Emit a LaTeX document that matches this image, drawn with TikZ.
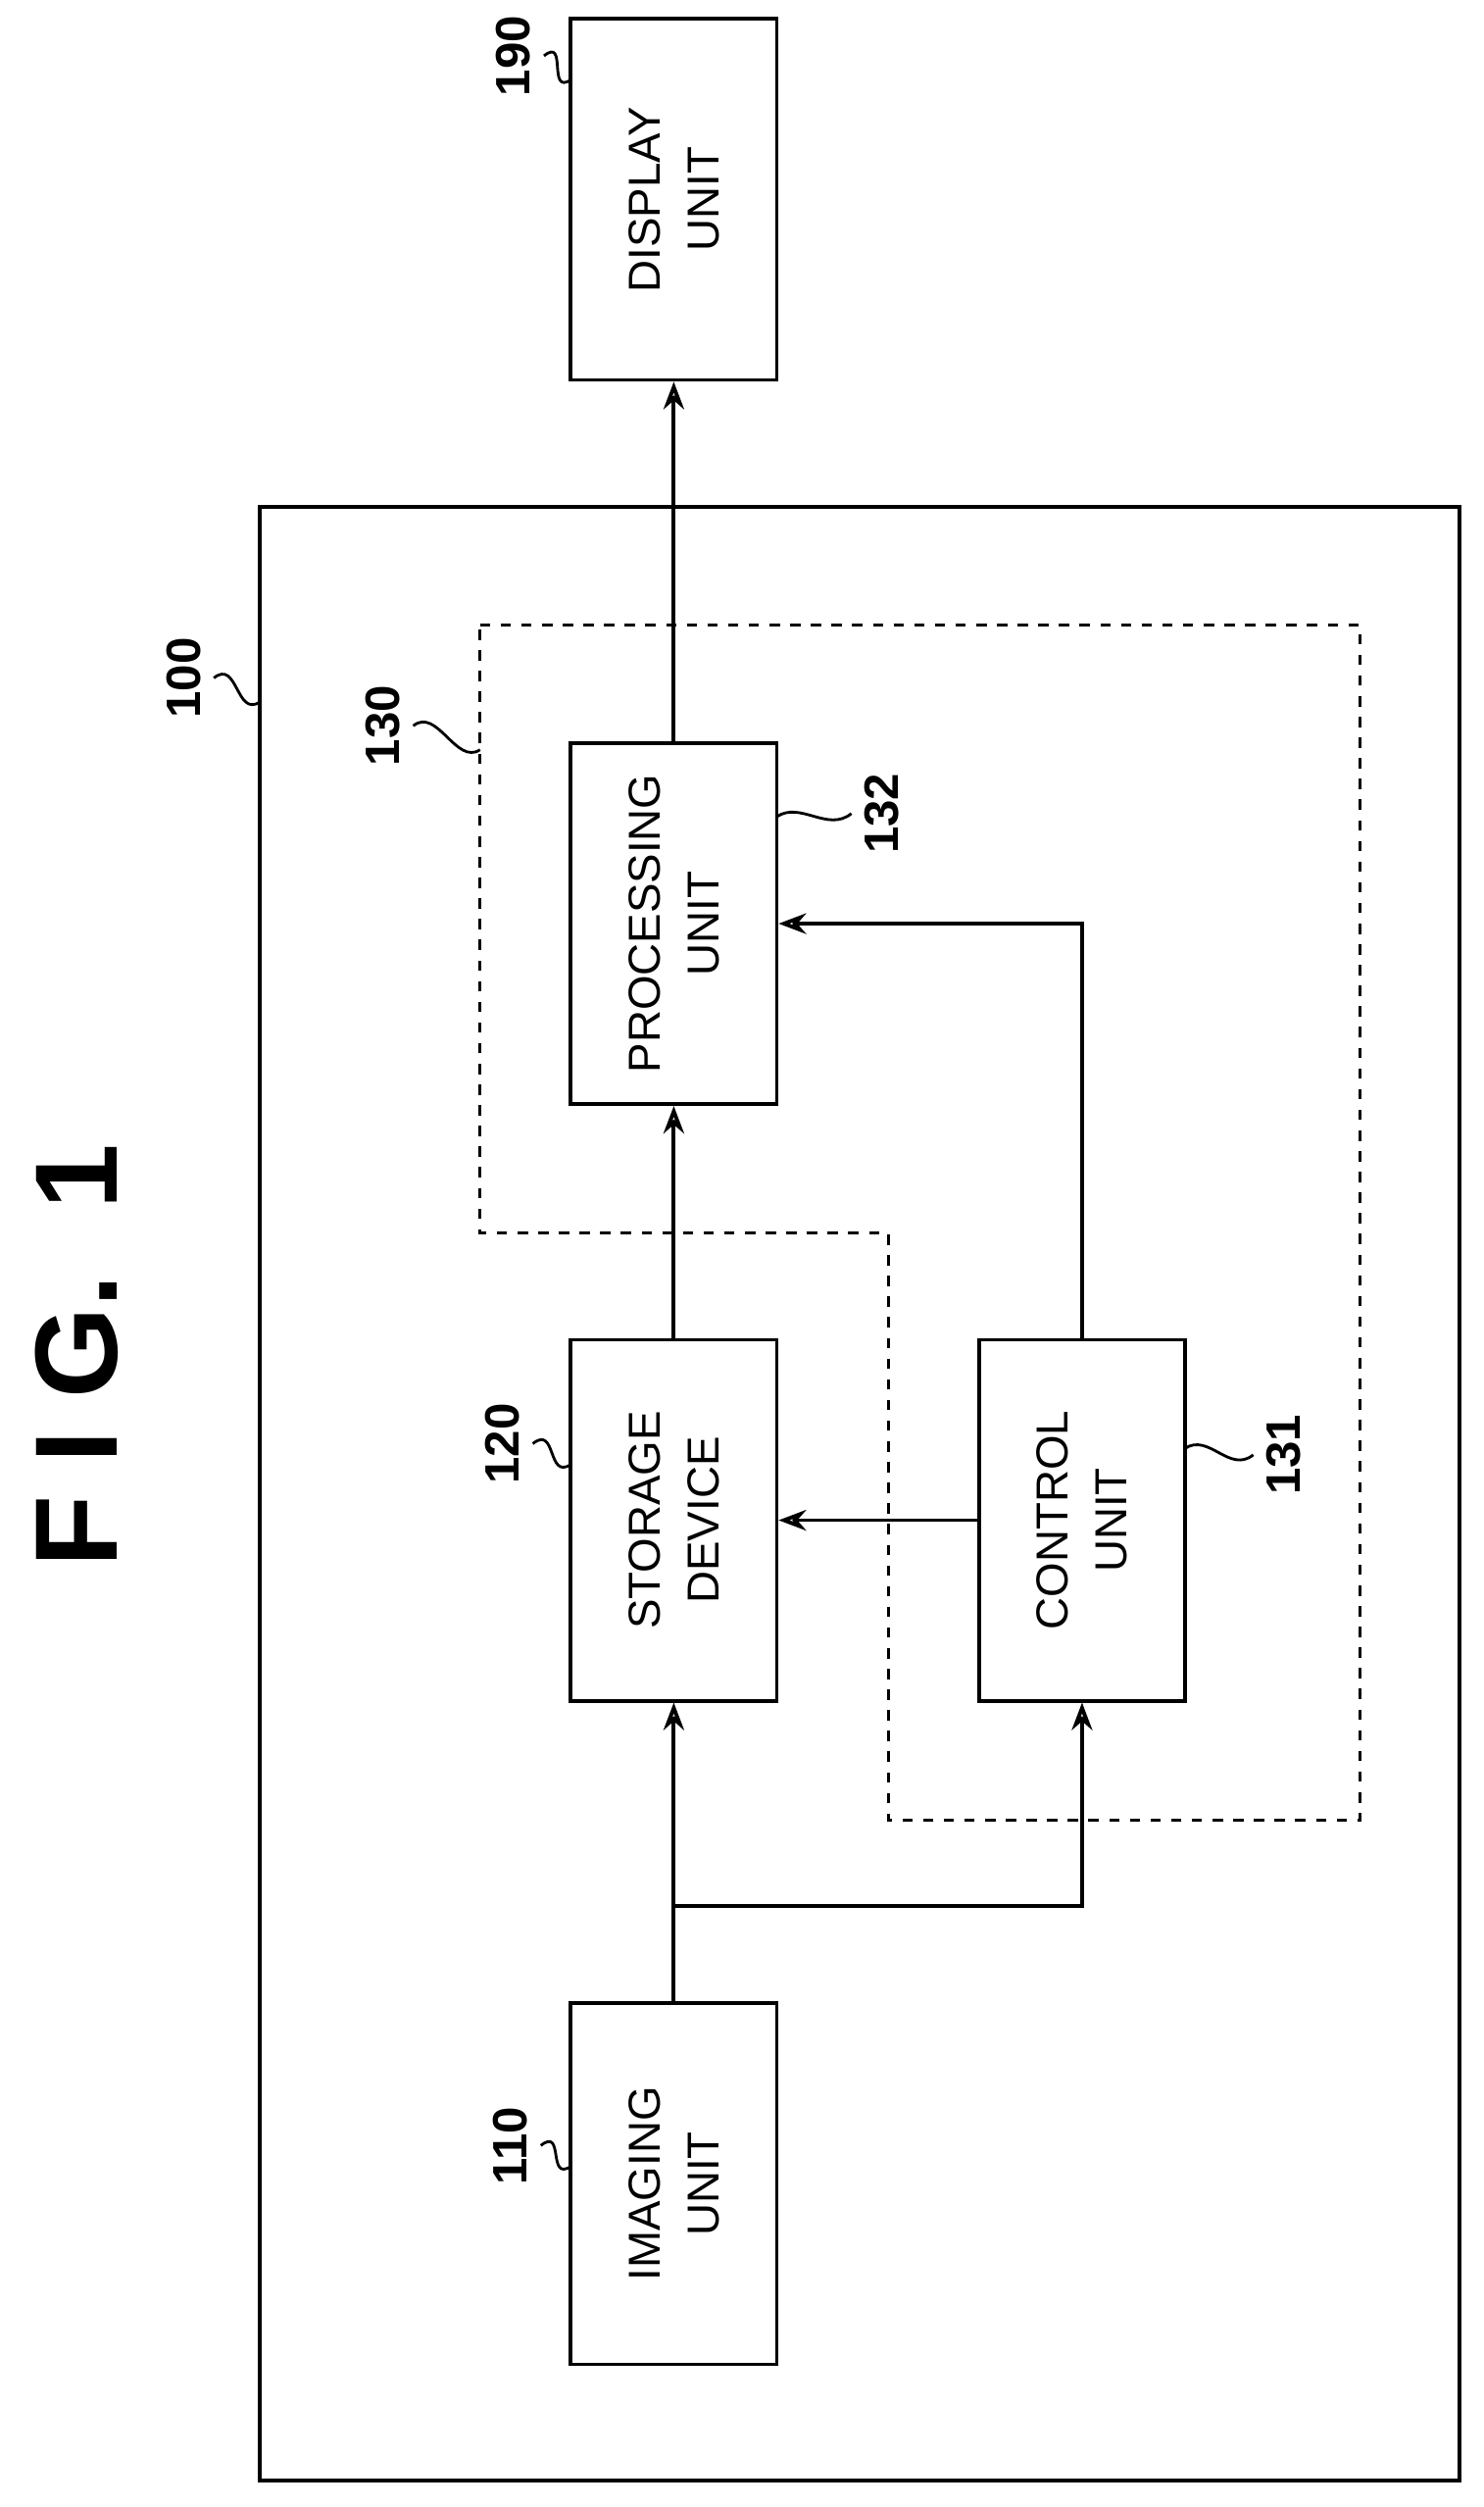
\documentclass[tikz,border=0pt]{standalone}
\usepackage{fontspec}
\setmainfont{Liberation Sans}
\usetikzlibrary{arrows.meta}
\begin{document}
\begin{tikzpicture}[x=0.01627cm, y=-0.01627cm, line width=1.1pt,
    box/.style={draw, minimum width=2.1cm, minimum height=3.68cm, inner sep=0pt},
    txt/.style={rotate=90, align=center, font=\fontsize{13}{17}\selectfont},
    num/.style={rotate=90, font=\fontsize{14}{16}\selectfont\bfseries},
    lead/.style={line width=0.8pt},
    flow/.style={-{Stealth[length=8pt,width=6pt,open]}}]
    \useasboundingbox (0,0) rectangle (930,1571.6);

    % Title
    \node[rotate=90, font=\fontsize{34}{40}\selectfont\bfseries] (fig) at (48,850) {F I G. \ 1};

    % Outer device and dashed block
    \draw (163,318) rectangle (915,1555);
    \draw[dashed, line width=0.9pt] (301,392) -- (853,392) -- (853,1141) -- (557,1141) -- (557,773) -- (301,773) -- cycle;

    % Boxes
    \node[box] (disp) at (422.5,125) {};
    \node[box] (proc) at (422.5,579) {};
    \node[box] (stor) at (422.5,953) {};
    \node[box] (ctrl) at (678.5,953) {};
    \node[box] (imag) at (422.5,1369) {};

    \node[txt] (dispt) at (disp) {DISPLAY\\UNIT};
    \node[txt] (proct) at (proc) {PROCESSING\\UNIT};
    \node[txt] (stort) at (stor) {STORAGE\\DEVICE};
    \node[txt] (ctrlt) at (ctrl) {CONTROL\\UNIT};
    \node[txt] (imagt) at (imag) {IMAGING\\UNIT};

    % Connectors
    \coordinate (br) at (422.5,1195);
    \draw[flow] (imag.north) -- (stor.south);
    \draw[flow] (br) -| (ctrl.south);
    \draw[flow] (stor.north) -- (proc.south);
    \draw[flow] (ctrl.west) -- (stor.east);
    \draw[flow] (ctrl.north) |- (proc.east);
    \draw[flow] (proc.north) -- (disp.south);

    % Reference numerals
    \node[num] (n190) at (322,35) {190};
    \node[num] (n100) at (115,425) {100};
    \node[num] (n130) at (240,455) {130};
    \node[num] (n132) at (553,510) {132};
    \node[num] (n120) at (315,905) {120};
    \node[num] (n131) at (805,912) {131};
    \node[num] (n110) at (320,1345) {110};

    \coordinate (c190) at (358,50);
    \coordinate (c100) at (163,440);
    \coordinate (c130) at (301,470);
    \coordinate (c132) at (487,512);
    \coordinate (c120) at (358,918);
    \coordinate (c131) at (743,908);
    \coordinate (c110) at (358,1358);

    \draw[lead] (n190.south) .. controls +(15,-12) and +(-15,10) .. (c190);
    \draw[lead] (n100.south) .. controls +(15,-12) and +(-15,10) .. (c100);
    \draw[lead] (n130.south) .. controls +(15,-12) and +(-15,10) .. (c130);
    \draw[lead] (n132.north) .. controls +(-15,12) and +(15,-10) .. (c132);
    \draw[lead] (n120.south) .. controls +(15,-12) and +(-15,10) .. (c120);
    \draw[lead] (n131.north) .. controls +(-15,12) and +(15,-10) .. (c131);
    \draw[lead] (n110.south) .. controls +(15,-12) and +(-15,10) .. (c110);
\end{tikzpicture}
\end{document}
